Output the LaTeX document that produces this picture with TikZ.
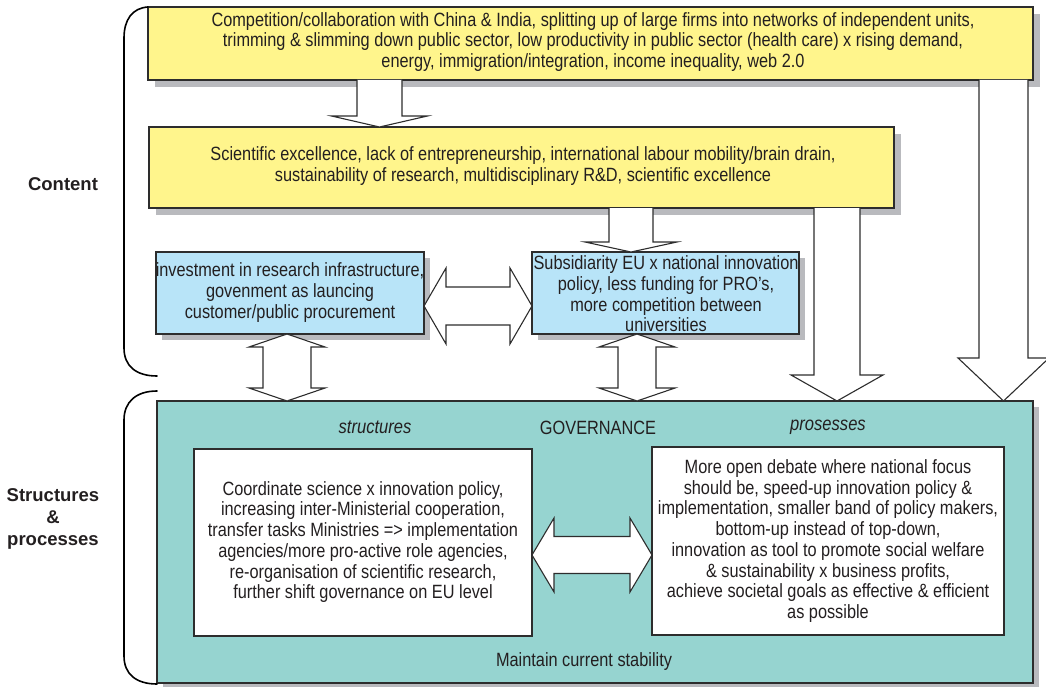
\documentclass[tikz,border=0pt]{standalone}
\usepackage{fontspec}
\setmainfont{Liberation Sans}[FakeStretch=0.85]
\newfontfamily\sidefont{Liberation Sans}
\usetikzlibrary{calc,shadows}

\definecolor{boxyellow}{RGB}{255,245,140}
\definecolor{boxblue}{RGB}{184,228,248}
\definecolor{boxteal}{RGB}{150,212,208}
\definecolor{shadegray}{RGB}{185,186,190}
\definecolor{ink}{RGB}{35,31,32}
\definecolor{edge}{RGB}{45,45,45}

% block arrow pointing down from the bottom of #5 to the top of #6
% #1 centre x, #2 half shaft width, #3 half head width, #4 head length
\newcommand\arrowdown[6]{%
  \coordinate (s) at (#1,0 |- #5.south);
  \coordinate (t) at (#1,0 |- #6.north);
  \draw[blockarrow] ($(s)+(-#2,0)$) -- ($(t)+(-#2,-#4)$) -- ($(t)+(-#3,-#4)$) -- (t)
    -- ($(t)+(#3,-#4)$) -- ($(t)+(#2,-#4)$) -- ($(s)+(#2,0)$);
}
% two-headed vertical block arrow between #5 (above) and #6 (below)
\newcommand\arrowupdown[6]{%
  \coordinate (s) at (#1,0 |- #5.south);
  \coordinate (t) at (#1,0 |- #6.north);
  \draw[blockarrow] (s) -- ($(s)+(#3,#4)$) -- ($(s)+(#2,#4)$) -- ($(t)+(#2,-#4)$)
    -- ($(t)+(#3,-#4)$) -- (t) -- ($(t)+(-#3,-#4)$) -- ($(t)+(-#2,-#4)$)
    -- ($(s)+(-#2,#4)$) -- ($(s)+(-#3,#4)$) -- cycle;
}
% two-headed horizontal block arrow between #5 (left) and #6 (right), #1 centre y
\newcommand\arrowleftright[6]{%
  \coordinate (s) at (0,#1 -| #5.east);
  \coordinate (t) at (0,#1 -| #6.west);
  \draw[blockarrow] (s) -- ($(s)+(#4,-#3)$) -- ($(s)+(#4,-#2)$) -- ($(t)+(-#4,-#2)$)
    -- ($(t)+(-#4,-#3)$) -- (t) -- ($(t)+(-#4,#3)$) -- ($(t)+(-#4,#2)$)
    -- ($(s)+(#4,#2)$) -- ($(s)+(#4,#3)$) -- cycle;
}

\begin{document}
\begin{tikzpicture}[x=1pt,y=-1pt,
  panel/.style={draw=edge, line width=1.1pt, inner sep=0pt, outer sep=0pt},
  boxshadow/.style={general shadow={fill=shadegray, shadow xshift=#1, shadow yshift=-#1}},
  sized/.style 2 args={minimum width=#1pt, minimum height=#2pt},
  ybox/.style={panel, fill=boxyellow, boxshadow=7pt},
  bbox/.style={panel, fill=boxblue, boxshadow=6pt},
  tbox/.style={panel, fill=boxteal, boxshadow=6pt},
  wbox/.style={panel, fill=white},
  txt/.style={align=center, text=ink, inner sep=0pt, font=\fontsize{19.2pt}{20.7pt}\selectfont},
  ittxt/.style={txt, font=\itshape\fontsize{19.5pt}{20.7pt}\selectfont},
  side/.style={align=center, text=ink, inner sep=0pt, font=\sidefont\bfseries\fontsize{18.5pt}{22pt}\selectfont},
  blockarrow/.style={draw=edge, fill=white, line width=1.1pt, line join=miter},
  brace/.style={draw=black, line width=1.6pt, line cap=round},
]
\useasboundingbox (0,0) rectangle (1046,687);

% content boxes
\node[ybox, sized={885}{73}] (top) at (590.5,43.5) {};
\node[txt] (topText) at (593,42) {Competition/collaboration with China \& India, splitting up of large firms into networks of independent units,\\
trimming \& slimming down public sector, low productivity in public sector (health care) x rising demand,\\
energy, immigration/integration, income inequality, web 2.0};

\node[ybox, sized={745}{81}] (second) at (521.5,167.5) {};
\node[txt] (secondText) at (523,166) {Scientific excellence, lack of entrepreneurship, international labour mobility/brain drain,\\
sustainability of research, multidisciplinary R\&D, scientific excellence};

\node[bbox, sized={268}{82}] (invest) at (290,293) {};
\node[txt] (investText) at (290,292.5) {investment in research infrastructure,\\ govenment as launcing\\ customer/public procurement};

\node[bbox, sized={267}{82}] (subs) at (665.5,293) {};
\node[txt] (subsText) at (666,294) {Subsidiarity EU x national innovation\\ policy, less funding for PRO’s,\\ more competition between\\ universities};

% governance panel
\node[tbox, sized={876}{282}] (gov) at (595,542) {};
\node[txt] (govTitle) at (598,428) {GOVERNANCE};
\node[ittxt] (structTitle) at (375,427) {structures};
\node[ittxt] (procTitle) at (828,427) {prosesses};

\node[wbox, sized={338}{187}] (struct) at (363,542.5) {};
\node[txt] (structText) at (363,542) {Coordinate science x innovation policy,\\ increasing inter-Ministerial cooperation,\\ transfer tasks Ministries => implementation\\ agencies/more pro-active role agencies,\\ re-organisation of scientific research,\\ further shift governance on EU level};

\node[wbox, sized={352}{188}] (proc) at (828,541) {};
\node[txt] (procText) at (828,541) {More open debate where national focus\\ should be, speed-up innovation policy \&\\ implementation, smaller band of policy makers,\\ bottom-up instead of top-down,\\ innovation as tool to promote social welfare\\ \& sustainability x business profits,\\ achieve societal goals as effective \& efficient\\ as possible};

\node[txt] (stability) at (584,662) {Maintain current stability};

% block arrows
\arrowdown{379.5}{22.5}{48}{11}{top}{second}
\arrowdown{631}{22}{46}{10}{second}{subs}
\arrowdown{837}{23}{46}{26}{second}{gov}
\arrowdown{1003.5}{24.5}{45.5}{43}{top}{gov}
\arrowupdown{287}{24}{38}{13}{invest}{gov}
\arrowupdown{637}{19}{38}{13}{subs}{gov}
\arrowleftright{306}{19}{38}{22}{invest}{subs}
\arrowleftright{555}{18.5}{37}{22}{struct}{proc}

% side brackets and their labels
\draw[brace] (top.north west) .. controls (132,8) and (124,20) .. (124,38) -- (124,348)
  .. controls (124,366) and (136,376) .. (157,376);
\draw[brace] (157,391) .. controls (136,391) and (124,402) .. (124,420) -- (124,656)
  .. controls (124,674) and (136,684) .. (157,684);
\node[side] (contentLabel) at (63,184) {Content};
\node[side] (structLabel) at (53,519) {Structures\\ \&\\ processes};
\end{tikzpicture}
\end{document}
